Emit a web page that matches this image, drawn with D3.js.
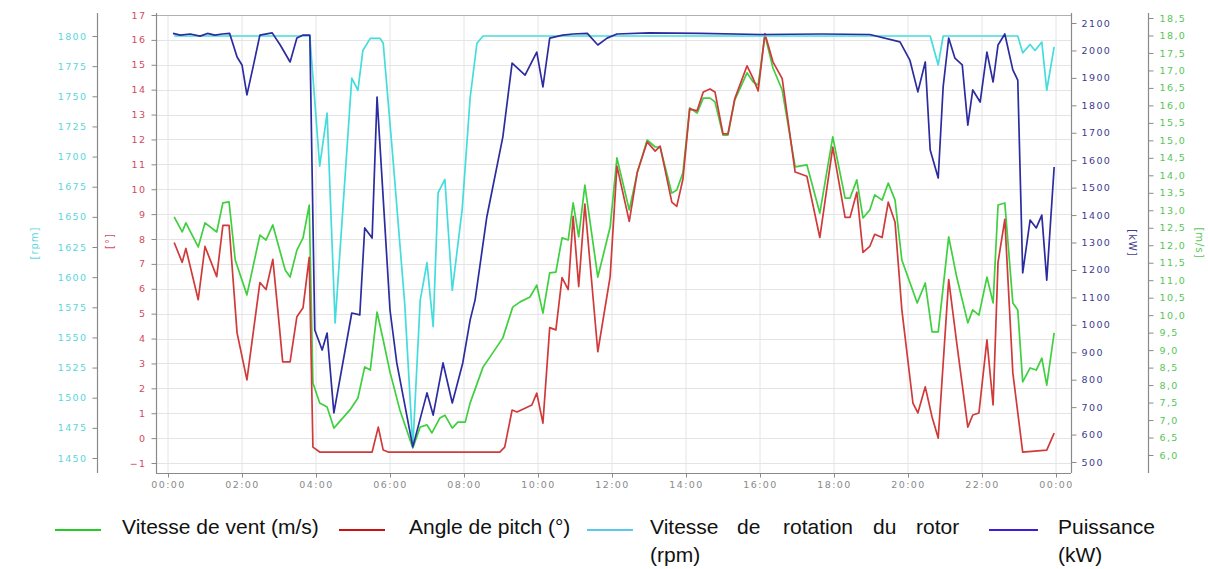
<!DOCTYPE html>
<html><head><meta charset="utf-8">
<script src="https://cdn.jsdelivr.net/npm/d3@7/dist/d3.min.js"></script>
<style>body{margin:0;background:#fff}svg{display:block}</style>
</head><body>
<svg id="chart" width="1208" height="569"></svg>
<script>
// ---------- DATA ----------
const xTickMinutes = [0,120,240,360,480,600,720,840,960,1080,1200,1320,1440];
const xTickLabels = ["00:00","02:00","04:00","06:00","08:00","10:00","12:00","14:00","16:00","18:00","20:00","22:00","00:00"];
const rpmTicks = [1450,1475,1500,1525,1550,1575,1600,1625,1650,1675,1700,1725,1750,1775,1800];
const pitchTicks = [-1,0,1,2,3,4,5,6,7,8,9,10,11,12,13,14,15,16,17];
const powerTicks = [500,600,700,800,900,1000,1100,1200,1300,1400,1500,1600,1700,1800,1900,2000,2100];
const windTicks = [6.0,6.5,7.0,7.5,8.0,8.5,9.0,9.5,10.0,10.5,11.0,11.5,12.0,12.5,13.0,13.5,14.0,14.5,15.0,15.5,16.0,16.5,17.0,17.5,18.0,18.5];

// wind speed (m/s)
const windTime = [10,23,29,49,60,79,89,99,109,128,149,159,170,190,198,209,219,229,235,246,258,269,295,308,319,328,339,349,360,376,397,409,420,428,441,449,461,470,482,490,511,522,543,559,571,587,598,608,619,629,639,649,657,666,676,697,717,728,748,761,777,790,798,817,825,835,846,858,868,879,887,900,908,919,939,949,957,968,981,996,1017,1036,1057,1078,1098,1106,1117,1127,1138,1146,1158,1168,1179,1190,1215,1228,1239,1249,1266,1279,1297,1305,1315,1328,1338,1346,1357,1370,1378,1386,1398,1408,1417,1425,1437];
const windSpeed = [12.81,12.38,12.64,11.95,12.64,12.38,13.21,13.24,11.58,10.58,12.29,12.15,12.58,11.29,11.09,11.86,12.21,13.15,8.06,7.49,7.37,6.77,7.29,7.63,8.52,8.43,10.09,9.29,8.37,7.29,6.20,6.80,6.86,6.63,7.06,7.14,6.77,6.94,6.94,7.49,8.52,8.80,9.35,10.23,10.38,10.52,10.86,10.06,11.21,11.23,12.21,12.15,13.21,12.24,13.72,11.09,12.52,14.5,13.01,14.07,15.01,14.81,14.81,13.49,13.58,14.07,15.93,15.78,16.21,16.21,16.1,15.15,15.15,16.15,16.93,16.67,16.58,18.01,17.07,16.44,14.24,14.30,12.92,15.10,13.35,13.35,13.87,12.78,13.01,13.44,13.29,13.78,13.29,11.58,10.35,10.92,9.52,9.52,12.24,11.09,9.78,10.15,10.0,11.09,10.35,13.15,13.21,10.35,10.15,8.09,8.49,8.43,8.77,8.0,9.49];

// pitch angle (°)
const pitchTime = [10,23,29,49,60,79,89,99,112,128,149,159,170,178,186,198,209,219,229,235,246,331,341,349,357,538,546,558,566,590,598,608,619,629,639,649,657,666,676,697,717,728,748,761,777,790,798,817,825,835,846,858,868,879,887,900,908,919,939,949,957,968,981,996,1017,1036,1057,1078,1098,1106,1117,1127,1138,1146,1158,1168,1179,1190,1208,1216,1228,1239,1249,1266,1279,1297,1305,1315,1328,1338,1346,1357,1370,1386,1425,1437];
const pitchAngle = [7.86,7.06,7.62,5.56,7.70,6.49,8.55,8.55,4.23,2.34,6.25,5.97,7.18,5.16,3.06,3.06,4.88,5.24,7.26,-0.36,-0.56,-0.56,0.44,-0.48,-0.56,-0.56,-0.36,1.13,1.05,1.33,1.81,0.60,4.44,4.35,6.45,5.97,8.91,6.09,9.40,3.47,6.49,10.93,8.71,10.69,11.90,11.53,11.73,9.48,9.31,10.4,13.23,13.15,13.91,14.03,13.91,12.22,12.22,13.63,14.96,14.44,13.95,16.25,15.12,14.44,10.69,10.52,8.06,11.69,8.87,8.87,9.88,7.46,7.70,8.19,8.06,9.48,8.67,5.16,1.41,1.01,2.06,0.85,0.0,6.37,3.83,0.44,0.93,1.01,3.95,1.33,7.06,8.79,2.62,-0.56,-0.48,0.20];

// rotor speed (rpm)
const rotorTime = [10,60,100,160,230,246,258,271,298,308,316,328,344,349,365,384,397,409,420,430,438,449,461,477,490,501,511,700,900,1100,1236,1249,1257,1378,1386,1398,1406,1417,1425,1437];
const rotorSpeed = [1800,1800,1800,1800,1800,1692,1736,1562,1765,1755,1788,1798,1798,1794,1697,1577,1459,1581,1612,1559,1670,1681,1589,1656,1749,1794,1800,1800,1800,1800,1800,1776,1800,1800,1786,1793,1788,1795,1755,1791];

// power (kW)
const powerTime = [8,20,36,52,64,76,88,100,112,120,128,138,149,169,182,198,209,219,230,238,250,258,269,298,311,319,331,339,360,371,397,420,430,446,461,478,490,498,517,543,558,579,598,608,619,640,657,680,697,712,728,780,863,960,1060,1138,1187,1203,1216,1228,1236,1249,1257,1266,1276,1288,1297,1305,1317,1328,1338,1346,1357,1370,1378,1386,1398,1408,1417,1425,1437];
const powerKW = [2062,2056,2060,2052,2062,2056,2060,2062,1976,1947,1838,1940,2056,2064,2020,1958,2045,2056,2056,981,908,970,679,1043,1036,1353,1316,1830,1054,861,555,752,671,861,715,861,1018,1091,1393,1685,1954,1910,1994,1867,2045,2056,2060,2062,2020,2045,2060,2064,2062,2058,2060,2058,2031,1965,1849,1958,1637,1535,1867,2045,1972,1947,1728,1856,1812,1994,1885,2020,2060,1929,1892,1189,1382,1353,1400,1163,1575];

const seriesNames = ["Vitesse de vent (m/s)","Angle de pitch (°)","Vitesse de rotation du rotor (rpm)","Puissance (kW)"];
const axisTitles = ["[rpm]","[°]","[kW]","[m/s]"];

// ---------- STYLE ----------
const C = {
  wind:"#3fcf3f", pitch:"#d03a3a", rotor:"#44dcdc", power:"#2c2ca0",
  windTxt:"#55c655", pitchTxt:"#d24a63", rotorTxt:"#5ad6dd", powerTxt:"#3c3c8e",
  axis:"#8a8a8a", grid:"#e4e4e4", xTxt:"#8a8a8a"
};
const svg = d3.select("#chart");
const plot = {l:156, r:1071, t:15, b:473};

const x = d3.scaleLinear().domain([0,1440]).range([168,1056]);
const yPitch = d3.scaleLinear().domain([-1,17]).range([463,15]);
const yRpm = d3.scaleLinear().domain([1450,1800]).range([458,36]);
const yPow = d3.scaleLinear().domain([500,2100]).range([462,23]);
const yWind = d3.scaleLinear().domain([6,18.5]).range([455,18]);

// grid
const g = svg.append("g");
g.selectAll(".vg").data(xTickMinutes).join("line")
  .attr("x1",d=>x(d)).attr("x2",d=>x(d)).attr("y1",plot.t).attr("y2",plot.b)
  .attr("stroke",C.grid).attr("stroke-width",1);
g.selectAll(".hg").data(pitchTicks).join("line")
  .attr("x1",plot.l).attr("x2",plot.r).attr("y1",d=>Math.round(yPitch(d))+0.5).attr("y2",d=>Math.round(yPitch(d))+0.5)
  .attr("stroke",C.grid).attr("stroke-width",1);
svg.append("line").attr("x1",plot.l).attr("x2",plot.r).attr("y1",plot.t+0.5).attr("y2",plot.t+0.5).attr("stroke","#b0b0b0");

const tickFont = "DejaVu Sans, sans-serif";
function styleAxis(sel, color){
  sel.select(".domain").remove();
  sel.selectAll(".tick line").attr("stroke",C.axis);
  sel.selectAll(".tick text").attr("fill",color).attr("font-family",tickFont)
     .attr("font-size","9.5px").attr("letter-spacing","1.4px");
}
function vline(xp, color){
  svg.append("line").attr("x1",xp).attr("x2",xp).attr("y1",plot.t-2).attr("y2",plot.b)
    .attr("stroke",color||C.axis).attr("stroke-width",1.2);
}

vline(97.5);
svg.append("g").attr("transform","translate(97.5,0)")
  .call(d3.axisLeft(yRpm).tickValues(rpmTicks).tickSize(5).tickPadding(5).tickFormat(d3.format("d")))
  .call(s=>styleAxis(s,C.rotorTxt));
vline(156.5);
svg.append("g").attr("transform","translate(156.5,0)")
  .call(d3.axisLeft(yPitch).tickValues(pitchTicks).tickSize(5).tickPadding(5).tickFormat(d3.format("d")))
  .call(s=>styleAxis(s,C.pitchTxt));
vline(1071.5);
svg.append("g").attr("transform","translate(1071.5,0)")
  .call(d3.axisRight(yPow).tickValues(powerTicks).tickSize(5).tickPadding(5).tickFormat(d3.format("d")))
  .call(s=>styleAxis(s,C.powerTxt));
vline(1148.5);
svg.append("g").attr("transform","translate(1148.5,0)")
  .call(d3.axisRight(yWind).tickValues(windTicks).tickSize(5).tickPadding(6).tickFormat(d=>d.toFixed(1).replace(".",",")))
  .call(s=>styleAxis(s,C.windTxt));
svg.append("line").attr("x1",plot.l).attr("x2",plot.r).attr("y1",plot.b+0.5).attr("y2",plot.b+0.5).attr("stroke",C.axis).attr("stroke-width",1.2);
svg.append("g").attr("transform",`translate(0,${plot.b+0.5})`)
  .call(d3.axisBottom(x).tickValues(xTickMinutes).tickSize(4).tickPadding(4).tickFormat((d,i)=>xTickLabels[i]))
  .call(s=>styleAxis(s,C.xTxt));

// axis titles
const titlePos = [[35,243,-90,C.rotorTxt],[110,241,-90,C.pitchTxt],[1132,243,90,C.powerTxt],[1199,243,90,C.windTxt]];
axisTitles.forEach((t,i)=>{
  const [tx,ty,rot,col]=titlePos[i];
  svg.append("text").attr("transform",`translate(${tx},${ty}) rotate(${rot})`)
    .attr("text-anchor","middle").attr("dominant-baseline","middle")
    .attr("fill",col).attr("font-family",tickFont).attr("font-size","10px").attr("letter-spacing","1px").text(t);
});

// lines
function draw(times, vals, yScale, color){
  const pts = times.map((t,i)=>({t, v: vals[i]}));
  svg.append("path").datum(pts)
    .attr("fill","none").attr("stroke",color).attr("stroke-width",1.7).attr("stroke-linejoin","round")
    .attr("d", d3.line().x(d=>x(d.t)).y(d=>yScale(d.v)));
}
draw(windTime, windSpeed, yWind, C.wind);
draw(pitchTime, pitchAngle, yPitch, C.pitch);
draw(rotorTime, rotorSpeed, yRpm, C.rotor);
draw(powerTime, powerKW, yPow, C.power);

// legend
const legFont = "Liberation Sans, Arial, sans-serif";
const legColors = ["#22cc22","#cc1111","#5cc8f0","#3a1ee0"];
const legLines = [[55,101],[339,385],[587,633],[989,1038]];
legLines.forEach((p,i)=>{
  svg.append("line").attr("x1",p[0]).attr("x2",p[1]).attr("y1",530).attr("y2",530)
    .attr("stroke",legColors[i]).attr("stroke-width",2.2);
});
const leg = svg.append("g").attr("font-family",legFont).attr("font-size","21px").attr("fill","#111");
leg.append("text").attr("x",122).attr("y",534).text(seriesNames[0]);
leg.append("text").attr("x",409).attr("y",534).text(seriesNames[1]);
const rotorWords = seriesNames[2].split(" ");
const rotorWordX = [650,737,783,873,916];
rotorWords.slice(0,5).forEach((w,i)=>leg.append("text").attr("x",rotorWordX[i]).attr("y",534).text(w));
leg.append("text").attr("x",650).attr("y",562).text(rotorWords[5]);
const powWords = seriesNames[3].split(" ");
leg.append("text").attr("x",1058).attr("y",534).text(powWords[0]);
leg.append("text").attr("x",1058).attr("y",562).text(powWords[1]);
</script>
</body></html>
